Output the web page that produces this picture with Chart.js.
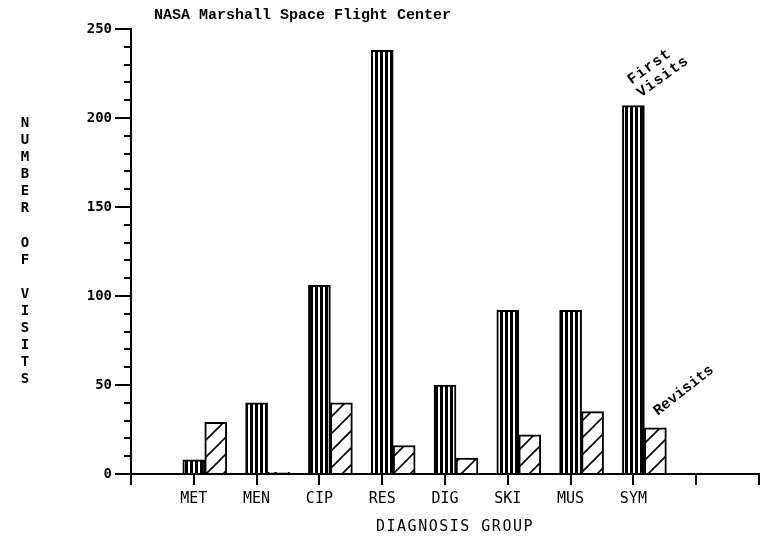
<!DOCTYPE html>
<html>
<head>
<meta charset="utf-8">
<script src="https://cdn.jsdelivr.net/npm/chart.js@4"></script>
<style>
html, body { margin: 0; padding: 0; background: #fff; }
</style>
</head>
<body>
<canvas id="Plot" width="764" height="539"></canvas>
<script>
// diagnosis groups and visit counts
var groups = ['MET', 'MEN', 'CIP', 'RES', 'DIG', 'SKI', 'MUS', 'SYM'];
var firstVisits = [8, 40, 106, 238, 50, 92, 92, 207];
var revisits = [29, 1, 40, 16, 9, 22, 35, 26];
var yMajor = [0, 50, 100, 150, 200, 250];

var REV_SHIFT = 0.35;   // hatched bar sits just right of the striped one
var MONO = 'DejaVu Sans Mono';
var TYPE = 'Liberation Mono';

function stripes() {
  var c = document.createElement('canvas');
  c.width = 5; c.height = 4;
  var g = c.getContext('2d');
  g.fillStyle = '#fff'; g.fillRect(0, 0, 5, 4);
  g.fillStyle = '#000'; g.fillRect(0, 0, 3, 4);
  return g.createPattern(c, 'repeat');
}
function hatch() {
  var s = 17;
  var c = document.createElement('canvas');
  c.width = s; c.height = s;
  var g = c.getContext('2d');
  g.fillStyle = '#fff'; g.fillRect(0, 0, s, s);
  g.strokeStyle = '#000'; g.lineWidth = 1.6;
  g.beginPath();
  g.moveTo(0, s); g.lineTo(s, 0);
  g.moveTo(-3, 3); g.lineTo(3, -3);
  g.moveTo(s - 3, s + 3); g.lineTo(s + 3, s - 3);
  g.stroke();
  return g.createPattern(c, 'repeat');
}

var decor = {
  id: 'decor',
  afterDraw: function(chart) {
    var c = chart.ctx, x = chart.scales.x, y = chart.scales.y, a = chart.chartArea;
    c.save();
    c.strokeStyle = '#000'; c.lineWidth = 2;
    // short ticks every 10 visits
    for (var v = 10; v < 250; v += 10) {
      if (v % 50 === 0) continue;
      var py = Math.round(y.getPixelForValue(v));
      c.beginPath(); c.moveTo(a.left - 7, py); c.lineTo(a.left, py); c.stroke();
    }
    // group marks below the baseline
    for (var i = 0; i <= 10; i++) {
      var px = Math.round(x.getPixelForValue(i));
      c.beginPath(); c.moveTo(px, a.bottom); c.lineTo(px, a.bottom + 11); c.stroke();
    }
    c.fillStyle = '#000';
    // heading
    c.font = 'bold 15px "' + TYPE + '"';
    c.textAlign = 'left'; c.textBaseline = 'middle';
    c.fillText('NASA Marshall Space Flight Center', a.left + 23, 15);
    // vertical axis title, letters stacked
    var letters = 'NUMBER OF VISITS'.split('');
    var lh = 17.1, mid = (a.top + a.bottom) / 2;
    var y0 = mid - lh * (letters.length - 1) / 2;
    c.font = 'bold 14px "' + MONO + '"';
    c.textAlign = 'center';
    letters.forEach(function(ch, i) { c.fillText(ch, 25, y0 + i * lh); });
    // horizontal axis title
    c.font = '15px "' + MONO + '"';
    c.letterSpacing = '1.5px';
    c.fillText('DIAGNOSIS GROUP', (a.left + a.right) / 2 + 10, 527);
    // series notes beside the last group
    c.font = 'bold 15px "' + TYPE + '"';
    c.textAlign = 'left';
    c.letterSpacing = '1px';
    c.save();
    c.translate(x.getPixelForValue(8) - 4, y.getPixelForValue(firstVisits[7]) - 24);
    c.rotate(-36 * Math.PI / 180);
    c.fillText('First', 0, 0);
    c.fillText('Visits', 0, 16);
    c.restore();
    c.letterSpacing = '0px';
    c.save();
    c.translate(x.getPixelForValue(8 + REV_SHIFT), y.getPixelForValue(revisits[7]) - 15);
    c.rotate(-38 * Math.PI / 180);
    c.fillText('Revisits', 0, 0);
    c.restore();
    c.restore();
  }
};

var ctx = document.getElementById('Plot').getContext('2d');
var myChart = new Chart(ctx, {
  type: 'bar',
  data: {
    datasets: [{
      label: 'First Visits',
      data: groups.map(function(g, i) { return { x: i + 1, y: firstVisits[i] }; }),
      backgroundColor: stripes(),
      borderColor: '#000',
      borderWidth: 2,
      barThickness: 22,
      grouped: false
    }, {
      label: 'Revisits',
      data: groups.map(function(g, i) { return { x: i + 1 + REV_SHIFT, y: revisits[i] }; }),
      backgroundColor: hatch(),
      borderColor: '#000',
      borderWidth: 2,
      barThickness: 22,
      grouped: false
    }]
  },
  options: {
    responsive: false,
    animation: false,
    layout: { padding: { top: 29, right: 1, left: 0, bottom: 0 } },
    plugins: {
      legend: { display: false },
      tooltip: { enabled: false }
    },
    scales: {
      x: {
        type: 'linear',
        offset: false,
        min: 0, max: 10,
        afterFit: function(s) { s.height = 65; },
        afterBuildTicks: function(s) {
          s.ticks = [];
          for (var i = 0; i <= 10; i++) s.ticks.push({ value: i });
        },
        border: { display: true, color: '#000', width: 2 },
        grid: { offset: false, drawOnChartArea: false, drawTicks: true, tickLength: 11, color: 'rgba(0,0,0,0)' },
        ticks: {
          autoSkip: false, maxRotation: 0, padding: 5, color: '#000',
          font: { family: MONO, size: 15 },
          callback: function(v) { return groups[v - 1] || ''; }
        }
      },
      y: {
        min: 0, max: 250,
        afterFit: function(s) { s.width = 131; },
        afterBuildTicks: function(s) {
          s.ticks = yMajor.map(function(v) { return { value: v }; });
        },
        border: { display: true, color: '#000', width: 2 },
        grid: { drawOnChartArea: false, drawTicks: true, tickLength: 16, color: '#000', lineWidth: 2 },
        ticks: {
          padding: 3, color: '#000',
          font: { family: MONO, size: 14, weight: 'bold' }
        }
      }
    }
  },
  plugins: [decor]
});
</script>
</body>
</html>
